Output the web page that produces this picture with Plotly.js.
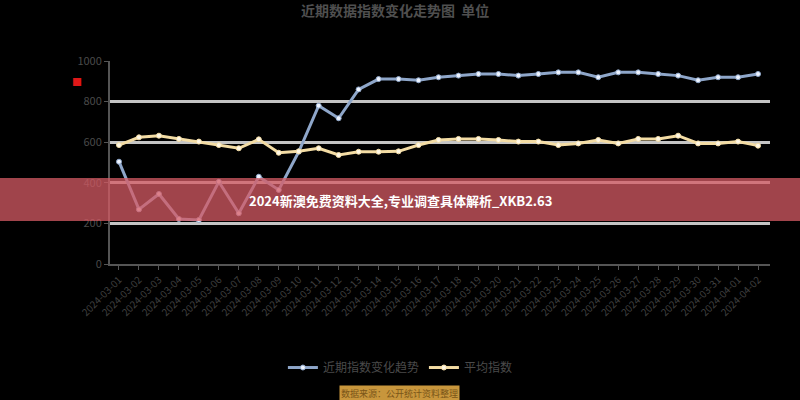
<!DOCTYPE html>
<html>
<head>
<meta charset="utf-8">
<script src="https://cdn.plot.ly/plotly-3.0.1.min.js"></script>
<style>
  html, body { margin: 0; padding: 0; background: #000; }
  #chart { width: 800px; height: 400px; }
</style>
</head>
<body>
<div id="chart"></div>
<script>
// categories (dates) and the two series
var dates = ['2024-03-01','2024-03-02','2024-03-03','2024-03-04','2024-03-05','2024-03-06',
  '2024-03-07','2024-03-08','2024-03-09','2024-03-10','2024-03-11','2024-03-12','2024-03-13',
  '2024-03-14','2024-03-15','2024-03-16','2024-03-17','2024-03-18','2024-03-19','2024-03-20',
  '2024-03-21','2024-03-22','2024-03-23','2024-03-24','2024-03-25','2024-03-26','2024-03-27',
  '2024-03-28','2024-03-29','2024-03-30','2024-03-31','2024-04-01','2024-04-02'];

var indexValues = [504, 269, 345, 222, 217, 405, 250, 430, 365, 553, 780, 718, 860,
  911, 911, 905, 920, 928, 936, 936, 928, 936, 944, 944, 920, 944, 944, 936, 928,
  905, 920, 920, 936];

var avgValues = [586, 624, 632, 616, 603, 586, 570, 614, 548, 555, 570, 537, 553,
  553, 555, 586, 611, 616, 616, 611, 603, 603, 586, 594, 611, 594, 616, 616, 632,
  594, 594, 603, 583];

var yTicks = [0, 200, 400, 600, 800, 1000];

var trace1 = {
  x: dates,
  y: indexValues,
  name: '近期指数变化趋势',
  type: 'scatter',
  mode: 'lines+markers',
  line: { color: '#8ea6c9', width: 3 },
  marker: { color: '#eef4ff', size: 5, line: { color: '#8ea6c9', width: 1 } }
};

var trace2 = {
  x: dates,
  y: avgValues,
  name: '平均指数',
  type: 'scatter',
  mode: 'lines+markers',
  line: { color: '#f3dca4', width: 3 },
  marker: { color: '#fff8e6', size: 5, line: { color: '#f3dca4', width: 1 } }
};

var layout = {
  width: 800,
  height: 400,
  paper_bgcolor: '#000',
  plot_bgcolor: '#000',
  font: { family: '"Noto Sans CJK SC", "Noto Sans", sans-serif', color: '#4d4d4d', size: 11 },
  margin: { l: 110, r: 30, t: 61, b: 136 },
  title: {
    text: '<b>近期数据指数变化走势图</b>  <b>单位</b>',
    x: 0.494, xanchor: 'center', y: 0.985, yanchor: 'top',
    font: { size: 14, color: '#4f4f4f' }
  },
  xaxis: {
    type: 'category',
    range: [-0.45, 32.6],
    showgrid: false,
    showline: true, linecolor: '#555', linewidth: 2,
    ticks: 'outside', tickcolor: '#555', ticklen: 4,
    tickangle: -45,
    tickfont: { size: 10, color: '#3f3f3f' }
  },
  yaxis: {
    range: [0, 1000],
    tickvals: yTicks,
    showgrid: true, gridcolor: '#c4c4c4', gridwidth: 2.5,
    zeroline: false,
    showline: true, linecolor: '#555', linewidth: 2,
    ticks: 'outside', tickcolor: '#555', ticklen: 4,
    tickfont: { size: 11, color: '#4a4a4a' }
  },
  showlegend: true,
  legend: {
    orientation: 'h',
    x: 0.44, xanchor: 'center',
    y: -0.51, yanchor: 'middle',
    font: { size: 12, color: '#4a4a4a' },
    bgcolor: 'rgba(0,0,0,0)'
  },
  shapes: [
    { type: 'rect', xref: 'paper', yref: 'paper', layer: 'above',
      x0: -0.2, x1: 1.1, y0: (264 - 178) / 203, y1: (264 - 221) / 203,
      fillcolor: 'rgba(213,91,100,0.75)', line: { width: 0 } }
  ],
  annotations: [
    { xref: 'paper', yref: 'paper', x: 0.44, y: (264 - 200) / 203,
      xanchor: 'center', yanchor: 'middle',
      text: '<b>2024新澳免费资料大全,专业调查具体解析_XKB2.63</b>',
      showarrow: false, font: { size: 13, color: '#ffffff' } },
    { xref: 'paper', yref: 'paper', x: -0.05, y: (264 - 81) / 203,
      xanchor: 'center', yanchor: 'middle',
      text: '■', showarrow: false, font: { size: 10, color: '#e01818' } },
    { xref: 'paper', yref: 'paper', x: 0.438, y: (264 - 393) / 203,
      xanchor: 'center', yanchor: 'middle',
      text: '数据来源：公开统计资料整理', showarrow: false,
      bgcolor: '#c8963c', borderpad: 1, font: { size: 9, color: '#7a5518' } }
  ]
};

Plotly.newPlot('chart', [trace1, trace2], layout, { displayModeBar: false });
</script>
</body>
</html>
